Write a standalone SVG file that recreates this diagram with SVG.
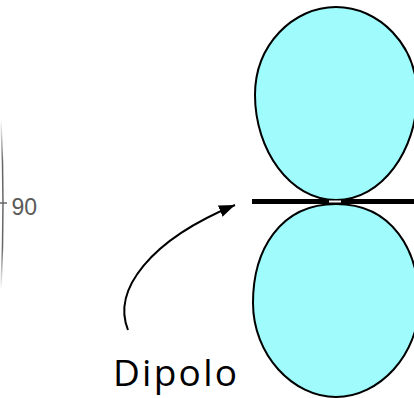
<svg xmlns="http://www.w3.org/2000/svg" width="414" height="398" viewBox="0 0 414 398">
  <style>
    .lobe { fill: #a0fcfc; stroke: #000; stroke-width: 2; }
    .axis { fill: none; stroke: url(#axisFade); stroke-width: 1.5; }
    .label90 { font-family: "Liberation Sans", Arial, sans-serif; font-size: 23px; fill: #5a5a5a; }
    .caption { font-family: "Open Sans", "Noto Sans", sans-serif; font-size: 37px; fill: #000; }
    .pointer { fill: none; stroke: #000; stroke-width: 2; }
  </style>
  <defs>
    <linearGradient id="axisFade" x1="0" y1="120" x2="0" y2="290" gradientUnits="userSpaceOnUse">
      <stop offset="0" stop-color="#777" stop-opacity="0"/>
      <stop offset="0.25" stop-color="#666"/>
      <stop offset="0.75" stop-color="#666"/>
      <stop offset="1" stop-color="#777" stop-opacity="0"/>
    </linearGradient>
    <marker id="head" markerUnits="userSpaceOnUse" markerWidth="17" markerHeight="13" refX="16" refY="6" orient="auto">
      <path d="M0,0 L16,6 L0,12 Z" fill="#000"/>
    </marker>
  </defs>

  <!-- edge of the polar grid with its 90 degree tick -->
  <g id="polar-edge">
    <path class="axis" d="M1,120 Q5,203 1,290"/>
    <line x1="0" y1="203" x2="7" y2="203" stroke="#666" stroke-width="1.5"/>
    <text class="label90" x="11.5" y="215">90</text>
  </g>

  <!-- radiation pattern lobes -->
  <g id="lobe-top">
    <path class="lobe" d="M336,200 C290,200 255,150 255,95 C255,45 293,7 336,7 C379,7 417,45 417,95 C417,150 382,200 336,200 Z"/>
  </g>
  <g id="lobe-bottom">
    <path class="lobe" d="M336,204 C280,204 253,250 253,303 C253,355 293,397 336,397 C379,397 419,355 419,303 C419,250 392,204 336,204 Z"/>
  </g>

  <!-- dipole element -->
  <g id="dipole">
    <line x1="252" y1="201.5" x2="414" y2="201.5" stroke="#000" stroke-width="5"/>
    <rect x="329" y="200.5" width="12" height="2" fill="#fff"/>
  </g>

  <!-- label pointer -->
  <g id="connectors">
    <path class="pointer" d="M128,330 C112,290 150,240 235,205" marker-end="url(#head)"/>
  </g>

  <g id="caption">
    <text class="caption" x="113" y="386" textLength="124" lengthAdjust="spacing">Dipolo</text>
  </g>
</svg>
